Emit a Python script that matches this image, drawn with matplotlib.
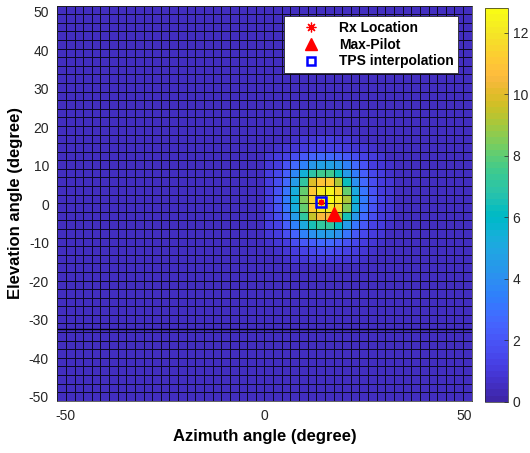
import numpy as np
import matplotlib
matplotlib.use("Agg")
import matplotlib.pyplot as plt
from matplotlib.colors import ListedColormap
from matplotlib.lines import Line2D

plt.rcParams['font.family'] = ['Liberation Sans', 'DejaVu Sans']
plt.rcParams['axes.unicode_minus'] = False

# ---------------- data ----------------
az_edges = np.linspace(-52, 52, 49)        # azimuth cell edges (deg), 48 columns
el_edges = np.linspace(-51.1, 51.6, 47)    # elevation cell edges (deg), 46 rows
background_level = 0.4

# peak region values (top row = highest elevation), columns = azimuth 0 .. 32.5 deg
peak_col0 = 24   # column index of first patch column
peak_row0 = 16   # row index (from bottom) of last patch row
peak_patch = [
    [0.5, 0.6, 0.6, 0.7, 0.8, 0.9, 1.0, 1.0, 0.9, 0.8, 0.7, 0.6, 0.6, 0.5, 0.5],
    [0.6, 0.7, 0.8, 0.9, 1.1, 1.3, 1.4, 1.4, 1.3, 1.1, 0.9, 0.8, 0.7, 0.6, 0.5],
    [0.8, 1.0, 1.3, 1.7, 2.1, 2.5, 2.7, 2.7, 2.5, 2.1, 1.7, 1.3, 1.0, 0.8, 0.6],
    [0.9, 1.2, 1.8, 2.7, 3.5, 4.3, 4.8, 4.8, 4.2, 3.4, 2.6, 1.8, 1.2, 0.9, 0.7],
    [1.0, 1.5, 2.4, 3.8, 5.4, 6.9, 7.5, 7.5, 6.2, 4.6, 3.2, 2.2, 1.5, 1.0, 0.7],
    [1.1, 1.7, 2.8, 4.6, 7.0, 9.8, 10.9, 11.0, 9.2, 6.2, 4.0, 2.6, 1.7, 1.1, 0.8],
    [1.2, 1.9, 3.1, 5.3, 8.0, 11.2, 12.1, 12.4, 11.4, 8.0, 5.0, 3.0, 1.9, 1.2, 0.8],
    [1.2, 2.0, 3.2, 5.5, 8.6, 11.5, 12.8, 12.8, 12.1, 9.0, 5.6, 3.2, 2.0, 1.3, 0.8],
    [1.2, 1.9, 3.1, 5.2, 8.0, 11.0, 12.0, 12.2, 11.5, 8.5, 5.2, 3.1, 1.9, 1.2, 0.8],
    [1.1, 1.7, 2.7, 4.4, 7.0, 9.5, 10.5, 10.6, 9.0, 6.5, 4.2, 2.6, 1.7, 1.1, 0.8],
    [1.0, 1.4, 2.2, 3.5, 5.0, 6.5, 7.0, 7.0, 6.0, 4.5, 3.0, 2.1, 1.4, 1.0, 0.7],
    [0.8, 1.1, 1.6, 2.5, 3.4, 4.0, 4.4, 4.4, 4.0, 3.0, 2.1, 1.5, 1.1, 0.8, 0.6],
    [0.7, 0.9, 1.2, 1.6, 2.0, 2.4, 2.6, 2.6, 2.3, 1.9, 1.5, 1.1, 0.9, 0.7, 0.6],
    [0.6, 0.7, 0.9, 1.1, 1.3, 1.5, 1.6, 1.6, 1.5, 1.3, 1.1, 0.9, 0.7, 0.6, 0.5],
    [0.5, 0.6, 0.7, 0.8, 0.9, 1.0, 1.0, 1.0, 1.0, 0.9, 0.8, 0.7, 0.6, 0.5, 0.5],
]

rx_location = (14.2, 0.5)
max_pilot = (17.4, -2.6)
tps_interp = (14.2, 0.5)
cbar_ticks = [0, 2, 4, 6, 8, 10, 12]
axis_ticks = [-50, 0, 50]
elev_ticks = [-50, -40, -30, -20, -10, 0, 10, 20, 30, 40, 50]
vmax = 12.8
dup_line_el = -32.4

# parula (MATLAB R2017a+) colormap, 64 entries
parula_data = [
[0.2422,0.1504,0.6603],[0.2504,0.1650,0.7076],[0.2578,0.1818,0.7511],[0.2647,0.1978,0.7952],
[0.2706,0.2147,0.8364],[0.2751,0.2342,0.8710],[0.2783,0.2559,0.8991],[0.2803,0.2782,0.9221],
[0.2813,0.3006,0.9414],[0.2810,0.3228,0.9579],[0.2795,0.3447,0.9717],[0.2760,0.3667,0.9829],
[0.2699,0.3892,0.9906],[0.2602,0.4123,0.9952],[0.2440,0.4358,0.9988],[0.2206,0.4603,0.9973],
[0.1963,0.4847,0.9892],[0.1834,0.5074,0.9798],[0.1786,0.5289,0.9682],[0.1764,0.5499,0.9520],
[0.1687,0.5703,0.9359],[0.1540,0.5902,0.9218],[0.1460,0.6091,0.9079],[0.1380,0.6276,0.8973],
[0.1248,0.6459,0.8883],[0.1113,0.6635,0.8763],[0.0952,0.6798,0.8598],[0.0689,0.6948,0.8394],
[0.0297,0.7082,0.8163],[0.0036,0.7203,0.7917],[0.0067,0.7312,0.7660],[0.0433,0.7411,0.7394],
[0.0964,0.7500,0.7120],[0.1408,0.7584,0.6842],[0.1717,0.7670,0.6554],[0.1938,0.7758,0.6251],
[0.2161,0.7843,0.5923],[0.2470,0.7918,0.5567],[0.2906,0.7973,0.5188],[0.3406,0.8008,0.4789],
[0.3909,0.8029,0.4354],[0.4456,0.8024,0.3909],[0.5044,0.7993,0.3480],[0.5616,0.7942,0.3045],
[0.6174,0.7876,0.2612],[0.6720,0.7793,0.2227],[0.7242,0.7698,0.1910],[0.7738,0.7598,0.1646],
[0.8203,0.7498,0.1535],[0.8634,0.7406,0.1596],[0.9035,0.7330,0.1774],[0.9393,0.7288,0.2100],
[0.9728,0.7298,0.2394],[0.9956,0.7434,0.2371],[0.9970,0.7659,0.2199],[0.9952,0.7893,0.2028],
[0.9892,0.8136,0.1885],[0.9781,0.8386,0.1778],[0.9674,0.8639,0.1651],[0.9610,0.8890,0.1537],
[0.9597,0.9135,0.1423],[0.9628,0.9373,0.1265],[0.9691,0.9606,0.1064],[0.9769,0.9839,0.0805],
]
parula = ListedColormap(parula_data, name='parula')

# ---------------- build grid ----------------
n_rows = len(el_edges) - 1
n_cols = len(az_edges) - 1
Z = np.full((n_rows, n_cols), background_level)
patch = np.flipud(np.array(peak_patch))
Z[peak_row0:peak_row0 + patch.shape[0], peak_col0:peak_col0 + patch.shape[1]] = patch

# ---------------- plot ----------------
fig = plt.figure(figsize=(5.3, 4.53), dpi=100)
ax = fig.add_axes([0.108, 0.1154, 0.782, 0.872])
cax = fig.add_axes([0.915, 0.1132, 0.043, 0.8685])

mesh = ax.pcolormesh(az_edges, el_edges, Z, cmap=parula, vmin=0, vmax=vmax,
                     edgecolors=(0, 0, 0, 0.8), linewidth=0.5, shading='flat')
ax.axhline(dup_line_el, color='k', lw=1.0, zorder=2)

ax.plot(*tps_interp, marker='s', ms=7.5, mfc='none', mec='#0000ff', mew=1.8,
        ls='none', zorder=5)
ax.plot(*rx_location, marker=(8, 2, 0), ms=4, color='red', mew=0.9, ls='none', zorder=6)
ax.plot(*max_pilot, marker='^', ms=10, color='red', ls='none', zorder=5)

ax.set_xlim(az_edges[0], az_edges[-1])
ax.set_ylim(el_edges[0], el_edges[-1])
ax.set_xticks(axis_ticks)
ax.set_yticks(elev_ticks)
ax.tick_params(direction='in', length=0, labelsize=10, colors='#262626', pad=6)
for s in ax.spines.values():
    s.set_color('#262626')
    s.set_linewidth(0.5)
ax.set_xlabel('Azimuth angle (degree)', fontsize=12, fontweight='bold', labelpad=4)
ax.set_ylabel('Elevation angle (degree)', fontsize=12, fontweight='bold', labelpad=4)

handles = [
    Line2D([], [], marker=(8, 2, 0), ms=7, color='red', mew=0.9, ls='none'),
    Line2D([], [], marker='^', ms=9, color='red', ls='none'),
    Line2D([], [], marker='s', ms=5.5, mfc='none', mec='#0000ff', mew=1.8, ls='none'),
]
leg = ax.legend(handles, ['Rx Location', 'Max-Pilot', 'TPS interpolation'],
                loc='upper right', bbox_to_anchor=(0.968, 0.974), borderaxespad=0,
                fancybox=False, framealpha=1, edgecolor='#262626',
                prop={'weight': 'bold', 'size': 10}, handlelength=3.2,
                handletextpad=0.4, borderpad=0.35, labelspacing=0.2, numpoints=1)
leg.get_frame().set_linewidth(0.6)

cb = fig.colorbar(mesh, cax=cax, ticks=cbar_ticks)
cb.ax.tick_params(direction='in', length=3, labelsize=10, colors='#262626', width=0.5)
cb.outline.set_linewidth(0.5)
cb.outline.set_edgecolor('#262626')

fig.savefig('out.png', dpi=100)
